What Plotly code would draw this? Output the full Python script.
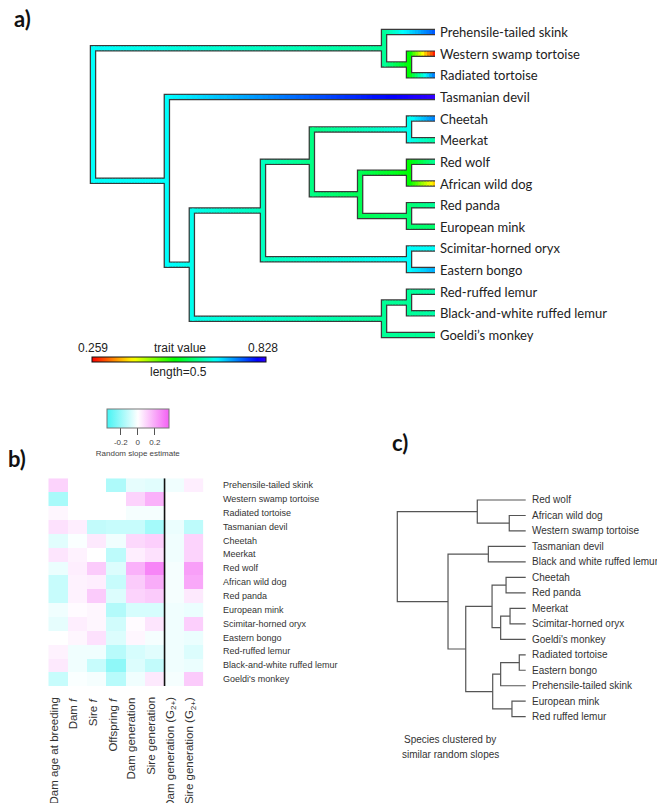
import colorsys
import plotly.graph_objects as go

W, H = 665, 803
OFF = 8  # the page body adds an 8px margin around the figure

# ---------------- Panel a: phylogeny with mapped trait ----------------
tips_a = ["Prehensile-tailed skink", "Western swamp tortoise", "Radiated tortoise",
          "Tasmanian devil", "Cheetah", "Meerkat", "Red wolf", "African wild dog",
          "Red panda", "European mink", "Scimitar-horned oryx", "Eastern bongo",
          "Red-ruffed lemur", "Black-and-white ruffed lemur", "Goeldi’s monkey"]
tip_values_a = [0.756, 0.259, 0.745, 0.828, 0.735, 0.615, 0.612, 0.362, 0.612,
                0.59, 0.665, 0.71, 0.62, 0.62, 0.61]
nodes_a = ["root", "reptiles", "tortoises", "mammals", "placentals", "carn_bov",
           "carnivores", "feliforms", "caniforms", "canids", "musteloids", "bovids",
           "primates", "lemurs"]
node_left_a = ["reptiles", "Prehensile-tailed skink", "Western swamp tortoise",
               "Tasmanian devil", "carn_bov", "carnivores", "feliforms", "Cheetah",
               "canids", "Red wolf", "Red panda", "Scimitar-horned oryx", "lemurs",
               "Red-ruffed lemur"]
node_right_a = ["mammals", "tortoises", "Radiated tortoise", "placentals", "primates",
                "bovids", "caniforms", "Meerkat", "musteloids", "African wild dog",
                "European mink", "Eastern bongo", "Goeldi’s monkey",
                "Black-and-white ruffed lemur"]
node_depth_a = [0.0, 0.851, 0.924, 0.216, 0.289, 0.497, 0.640, 0.924, 0.781, 0.924,
                0.924, 0.924, 0.851, 0.924]
node_values_a = [0.665, 0.61, 0.53, 0.665, 0.655, 0.63, 0.60, 0.655, 0.575, 0.53,
                 0.59, 0.665, 0.61, 0.61]
tip_depth_a = 1.0
trait_min, trait_max = 0.259, 0.828

# ---------------- Panel b: heatmap of random slopes ----------------
rows_b = ["Prehensile-tailed skink", "Western swamp tortoise", "Radiated tortoise",
          "Tasmanian devil", "Cheetah", "Meerkat", "Red wolf", "African wild dog",
          "Red panda", "European mink", "Scimitar-horned oryx", "Eastern bongo",
          "Red-ruffed lemur", "Black-and-white ruffed lemur", "Goeldi's monkey"]
cols_b = ["Dam age at breeding", "Dam <i>f</i>", "Sire <i>f</i>", "Offspring <i>f</i>",
          "Dam generation", "Sire generation", "Dam generation (G<sub>2+</sub>)",
          "Sire generation (G<sub>2+</sub>)"]
n_cols_before_line = 6
values_b = [
    [0.10, None, None, -0.16, -0.05, -0.06, -0.03, 0.04],
    [-0.17, None, None, None, 0.10, 0.18, None, None],
    [0.02, None, None, None, -0.02, -0.02, None, None],
    [0.07, 0.04, -0.12, -0.11, -0.11, -0.18, -0.04, -0.13],
    [-0.06, -0.01, 0.05, -0.03, 0.09, 0.11, -0.03, 0.10],
    [0.06, 0.03, 0.00, -0.13, 0.04, 0.07, -0.03, 0.10],
    [-0.04, 0.04, 0.12, -0.07, 0.18, 0.28, -0.02, 0.22],
    [-0.11, 0.03, 0.04, -0.11, 0.12, 0.19, -0.02, 0.20],
    [-0.11, 0.03, 0.12, -0.07, 0.10, 0.12, -0.02, 0.05],
    [-0.03, 0.01, 0.02, -0.15, -0.08, -0.08, -0.03, -0.04],
    [-0.05, 0.04, 0.02, -0.09, 0.01, 0.06, -0.03, 0.11],
    [0.00, 0.02, 0.07, -0.07, 0.02, -0.02, -0.03, -0.04],
    [0.03, -0.03, -0.03, -0.14, -0.08, -0.06, -0.03, -0.07],
    [0.05, -0.03, -0.11, -0.22, -0.07, -0.12, -0.03, -0.04],
    [-0.11, -0.01, -0.02, -0.14, -0.03, 0.05, -0.02, 0.12],
]
slope_min, slope_max = -0.365, 0.365
slope_ticks = [-0.2, 0, 0.2]

# ---------------- Panel c: clustering dendrogram ----------------
tips_c = ["Red wolf", "African wild dog", "Western swamp tortoise", "Tasmanian devil",
          "Black and white ruffed lemur", "Cheetah", "Red panda", "Meerkat",
          "Scimitar-horned oryx", "Goeldi's monkey", "Radiated tortoise",
          "Eastern bongo", "Prehensile-tailed skink", "European mink",
          "Red ruffed lemur"]
merge_names_c = ["n1", "n2", "n3", "n4", "n5", "n6", "n7", "n8", "n9", "n10", "n11",
                 "n12", "n13", "n14"]
merge_left_c = ["African wild dog", "Red wolf", "Tasmanian devil", "Cheetah", "Meerkat",
                "n5", "n4", "Radiated tortoise", "n8", "European mink", "n9", "n7",
                "n3", "n2"]
merge_right_c = ["Western swamp tortoise", "n1", "Black and white ruffed lemur",
                 "Red panda", "Scimitar-horned oryx", "Goeldi's monkey", "n6",
                 "Eastern bongo", "Prehensile-tailed skink", "Red ruffed lemur", "n10",
                 "n11", "n12", "n13"]
merge_height_c = [0.128, 0.377, 0.291, 0.153, 0.122, 0.195, 0.262, 0.050, 0.195,
                  0.107, 0.257, 0.467, 0.605, 1.0]


# ---------------- helpers ----------------
def lin(p, pa, da, pb, db):
    return da + (p - pa) * (db - da) / (pb - pa)


def xdom(p0, p1):
    return [(p0 - OFF) / W, (p1 - OFF) / W]


def ydom(p0, p1):
    return [1 - (p1 - OFF) / H, 1 - (p0 - OFF) / H]


def px_x(p):
    return (p - OFF) / W


def px_y(p):
    return 1 - (p - OFF) / H


def paper_text(xp, yp, text, font):
    return dict(x=px_x(xp), y=px_y(yp), xref="paper", yref="paper", text=text,
                showarrow=False, xanchor="center", yanchor="middle", font=font)


def rainbow(v):
    f = min(1.0, max(0.0, (v - trait_min) / (trait_max - trait_min)))
    r, g, b = colorsys.hsv_to_rgb(0.7 * f, 1, 1)
    return "rgb(%d,%d,%d)" % (round(r * 255), round(g * 255), round(b * 255))


rainbow_scale = [[i / 40, rainbow(trait_min + i / 40 * (trait_max - trait_min))]
                 for i in range(41)]

fig = go.Figure()

# ---- panel a geometry from tree data ----
depth = {t: tip_depth_a for t in tips_a}
val = dict(zip(tips_a, tip_values_a))
ypos = {t: i + 1 for i, t in enumerate(tips_a)}
left = {}
right = {}
for n, l, r, d, v in zip(nodes_a, node_left_a, node_right_a, node_depth_a, node_values_a):
    depth[n] = d
    val[n] = v
    left[n] = l
    right[n] = r


def gety(n):
    if n not in ypos:
        ypos[n] = (gety(left[n]) + gety(right[n])) / 2
    return ypos[n]


for n in nodes_a:
    gety(n)

# pixel anchors for panel a
AX0, AX1 = 93, 435     # depth 0 / depth 1
AY0, AY1 = 32, 335     # first / last tip
px_per_y = (AY1 - AY0) / (len(tips_a) - 1)

out_x, out_y = [], []
NB = 160
bins = {}


def add_colored(xs, ys, v):
    k = round((v - trait_min) / (trait_max - trait_min) * (NB - 1))
    k = min(NB - 1, max(0, k))
    bx, by = bins.setdefault(k, ([], []))
    bx.extend(xs + [None])
    by.extend(ys + [None])


for n in nodes_a:
    p_d, p_v = depth[n], val[n]
    c1, c2 = left[n], right[n]
    out_x.extend([depth[c1], p_d, p_d, depth[c2], None])
    out_y.extend([ypos[c1], ypos[c1], ypos[c2], ypos[c2], None])
    ext = 2.0 / px_per_y
    add_colored([p_d, p_d], [ypos[c1] - ext, ypos[c2] + ext], p_v)
    for c in (c1, c2):
        d0, d1 = p_d, depth[c]
        v0, v1 = p_v, val[c]
        nseg = max(2, int((d1 - d0) / 0.008))
        for i in range(nseg):
            t0, t1 = i / nseg, (i + 1) / nseg
            xa = d0 + (d1 - d0) * t0
            xb = min(d1, d0 + (d1 - d0) * t1 + 0.002)
            add_colored([xa, xb], [ypos[c], ypos[c]], v0 + (v1 - v0) * (t0 + t1) / 2)

fig.add_trace(go.Scatter(x=out_x, y=out_y, mode="lines",
                         line=dict(color="#3a3a3a", width=6.5),
                         hoverinfo="skip", showlegend=False, xaxis="x", yaxis="y"))
for k in sorted(bins):
    bx, by = bins[k]
    v = trait_min + k / (NB - 1) * (trait_max - trait_min)
    fig.add_trace(go.Scatter(x=bx, y=by, mode="lines",
                             line=dict(color=rainbow(v), width=4),
                             hoverinfo="skip", showlegend=False, xaxis="x", yaxis="y"))

# colour legend for panel a (carried by invisible tip markers)
fig.add_trace(go.Scatter(
    x=[tip_depth_a] * len(tips_a), y=[ypos[t] for t in tips_a], mode="markers",
    marker=dict(size=1, opacity=0, color=tip_values_a, colorscale=rainbow_scale,
                cmin=trait_min, cmax=trait_max, showscale=True,
                colorbar=dict(orientation="h", x=px_x(179), xanchor="center",
                              y=px_y(357.3), yanchor="top", len=174, lenmode="pixels",
                              thickness=5, thicknessmode="pixels", outlinewidth=1,
                              outlinecolor="#111", showticklabels=False, ticks="",
                              xpad=0, ypad=0)),
    hoverinfo="skip", showlegend=False, xaxis="x", yaxis="y"))

annotations = []
for t in tips_a:
    annotations.append(dict(x=tip_depth_a, y=ypos[t], xref="x", yref="y", text=t,
                            showarrow=False, xanchor="left", yanchor="middle", xshift=3,
                            font=dict(family="Lato", size=13, color="#222")))

legend_font = dict(family="Liberation Sans", size=12, color="#222")
annotations += [
    paper_text(93.5, 348.5, f"{trait_min:.3f}", legend_font),
    paper_text(179.5, 348.5, "trait value", legend_font),
    paper_text(263.5, 348.5, f"{trait_max:.3f}", legend_font),
    paper_text(179, 372, "length=0.5", legend_font),
]

# ---- panel b heatmap ----
fig.add_trace(go.Heatmap(
    z=values_b, x=list(range(len(cols_b))), y=list(range(len(rows_b))),
    colorscale=[[0, "rgb(70,244,244)"], [0.5, "rgb(255,255,255)"],
                [1, "rgb(244,96,244)"]],
    zmin=slope_min, zmax=slope_max, xgap=0, ygap=0, hoverongaps=False,
    xaxis="x2", yaxis="y2",
    colorbar=dict(orientation="h", x=px_x(137.8), xanchor="center", y=px_y(409.3),
                  yanchor="top", len=62, lenmode="pixels", thickness=19,
                  thicknessmode="pixels", outlinewidth=1, outlinecolor="#777",
                  ticks="outside", ticklen=7, tickcolor="#555", tickwidth=1,
                  tickvals=slope_ticks, ticktext=["-0.2", "0", "0.2"],
                  tickfont=dict(family="Liberation Sans", size=8, color="#444"),
                  title=dict(text="Random slope estimate", side="bottom",
                             font=dict(family="Liberation Sans", size=8, color="#444")),
                  xpad=0, ypad=0)))

fig.add_shape(type="line", xref="x2", yref="y2",
              x0=n_cols_before_line - 0.5, x1=n_cols_before_line - 0.5,
              y0=-0.5, y1=len(rows_b) - 0.5, line=dict(color="#111", width=1.6))

row_font = dict(family="Liberation Sans", size=9, color="#333")
for i, r in enumerate(rows_b):
    annotations.append(dict(x=len(cols_b) - 0.5, y=i, xref="x2", yref="y2", text=r,
                            showarrow=False, xanchor="left", yanchor="middle", xshift=18,
                            font=row_font))
col_font = dict(family="Liberation Sans", size=11.5, color="#333")
for j, c in enumerate(cols_b):
    annotations.append(dict(x=j, y=len(rows_b) - 0.5, xref="x2", yref="y2", text=c,
                            showarrow=False, textangle=-90, xanchor="center",
                            yanchor="top", yshift=-9, xshift=-4, font=col_font))

# ---- panel c dendrogram ----
hgt = {t: 0.0 for t in tips_c}
yc = {t: i + 1 for i, t in enumerate(tips_c)}
dx, dy = [], []
for n, l, r, h in zip(merge_names_c, merge_left_c, merge_right_c, merge_height_c):
    hgt[n] = h
    yc[n] = (yc[l] + yc[r]) / 2
    dx.extend([hgt[l], h, h, hgt[r], None])
    dy.extend([yc[l], yc[l], yc[r], yc[r], None])
fig.add_trace(go.Scatter(x=dx, y=dy, mode="lines", line=dict(color="#555", width=1.2),
                         hoverinfo="skip", showlegend=False, xaxis="x3", yaxis="y3"))
c_font = dict(family="Liberation Sans", size=10, color="#333")
for t in tips_c:
    annotations.append(dict(x=0, y=yc[t], xref="x3", yref="y3", text=t, showarrow=False,
                            xanchor="left", yanchor="middle", xshift=4, font=c_font))
annotations += [
    paper_text(450, 739.5, "Species clustered by", c_font),
    paper_text(450, 754, "similar random slopes", c_font),
]

# panel letters
lab_font = dict(family="Lato", size=22, color="#111", weight="bold")
annotations += [
    paper_text(22, 18, "<b>a)</b>", lab_font),
    paper_text(17, 458, "<b>b)</b>", lab_font),
    paper_text(400, 443, "<b>c)</b>", lab_font),
]

# ---- axes ----
hidden = dict(visible=False, showgrid=False, zeroline=False, fixedrange=True)
ax_px = (78, 452)
ay_px = (18, 349)
bx_px = (48.3, 203.3)
by_px = (478.3, 686.0)
cx_px = (388, 532)
cy_px = (490, 726)
C_TIP_X, C_ROOT_X = 525.7, 397.3
C_Y0, C_Y1 = 500.0, 716.7

fig.update_layout(
    width=W, height=H, margin=dict(l=0, r=0, t=0, b=0, autoexpand=False),
    paper_bgcolor="white", plot_bgcolor="rgba(0,0,0,0)",
    xaxis=dict(domain=xdom(*ax_px), anchor="y",
               range=[lin(ax_px[0], AX0, 0, AX1, 1), lin(ax_px[1], AX0, 0, AX1, 1)], **hidden),
    yaxis=dict(domain=ydom(*ay_px), anchor="x",
               range=[lin(ay_px[1], AY0, 1, AY1, len(tips_a)),
                      lin(ay_px[0], AY0, 1, AY1, len(tips_a))], **hidden),
    xaxis2=dict(domain=xdom(*bx_px), anchor="y2", range=[-0.5, len(cols_b) - 0.5], **hidden),
    yaxis2=dict(domain=ydom(*by_px), anchor="x2", range=[len(rows_b) - 0.5, -0.5], **hidden),
    xaxis3=dict(domain=xdom(*cx_px), anchor="y3",
                range=[lin(cx_px[0], C_TIP_X, 0, C_ROOT_X, 1),
                       lin(cx_px[1], C_TIP_X, 0, C_ROOT_X, 1)], **hidden),
    yaxis3=dict(domain=ydom(*cy_px), anchor="x3",
                range=[lin(cy_px[1], C_Y0, 1, C_Y1, len(tips_c)),
                       lin(cy_px[0], C_Y0, 1, C_Y1, len(tips_c))], **hidden),
    annotations=annotations,
)

fig.write_html("out.html")
